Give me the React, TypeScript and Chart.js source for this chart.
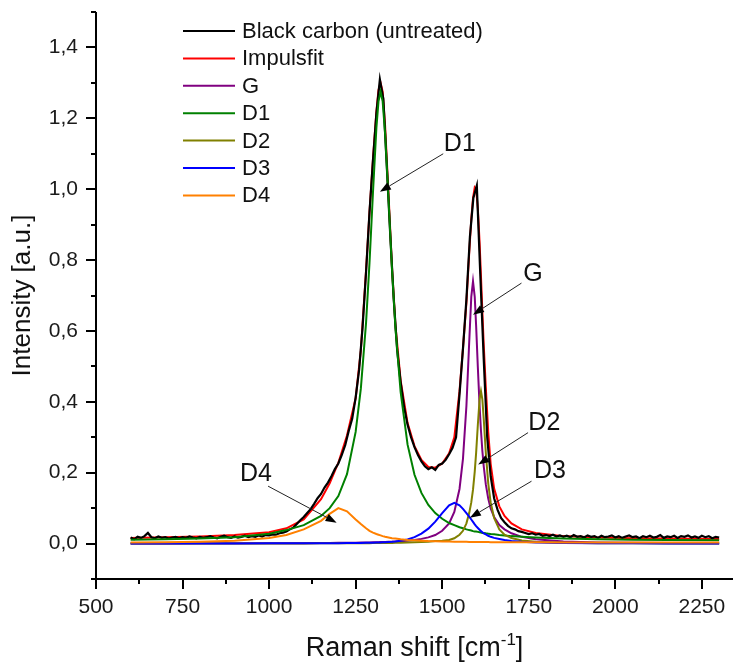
import React, { useEffect, useRef } from "react";
import { Chart, registerables } from "chart.js";

Chart.register(...registerables);

const FONT = '"Liberation Sans", Arial, Helvetica, sans-serif';

// Raman shift sampling of the fitted curves [cm^-1]
const FIT_X = [600, 700, 800, 900, 1000, 1050, 1100, 1150, 1175, 1200, 1225, 1250, 1265, 1280, 1290, 1300, 1310, 1316, 1322, 1328, 1335, 1345, 1355, 1365, 1380, 1400, 1420, 1440, 1460, 1480, 1500, 1520, 1535, 1550, 1560, 1570, 1578, 1584, 1589, 1594, 1598, 1603, 1608, 1612, 1616, 1620, 1626, 1633, 1640, 1650, 1665, 1680, 1700, 1730, 1770, 1850, 1950, 2050, 2150, 2300];

const IMPULSFIT = [0.016, 0.018, 0.020, 0.024, 0.032, 0.043, 0.068, 0.125, 0.170, 0.228, 0.305, 0.410, 0.545, 0.770, 0.935, 1.085, 1.220, 1.280, 1.300, 1.275, 1.180, 0.985, 0.780, 0.615, 0.460, 0.340, 0.275, 0.236, 0.216, 0.214, 0.226, 0.255, 0.300, 0.430, 0.550, 0.680, 0.820, 0.915, 0.975, 1.005, 1.000, 0.945, 0.850, 0.755, 0.655, 0.560, 0.440, 0.315, 0.225, 0.155, 0.105, 0.078, 0.057, 0.040, 0.030, 0.021, 0.017, 0.015, 0.014, 0.013];

const G_BAND = [0.0004, 0.0005, 0.0006, 0.0008, 0.0009, 0.0011, 0.0012, 0.0014, 0.0015, 0.0020, 0.0022, 0.0026, 0.0028, 0.0031, 0.0033, 0.0035, 0.0038, 0.0040, 0.0041, 0.0043, 0.0046, 0.0050, 0.0054, 0.0059, 0.0068, 0.0082, 0.0103, 0.0132, 0.0174, 0.024, 0.036, 0.057, 0.089, 0.154, 0.239, 0.389, 0.568, 0.696, 0.740, 0.696, 0.615, 0.497, 0.389, 0.319, 0.262, 0.218, 0.167, 0.127, 0.099, 0.075, 0.052, 0.040, 0.029, 0.019, 0.012, 0.006, 0.003, 0.002, 0.0015, 0.001];

const D1_BAND = [0.011, 0.012, 0.014, 0.018, 0.028, 0.038, 0.052, 0.078, 0.100, 0.134, 0.196, 0.315, 0.437, 0.622, 0.792, 0.990, 1.174, 1.248, 1.275, 1.248, 1.158, 0.970, 0.774, 0.607, 0.427, 0.279, 0.194, 0.143, 0.109, 0.086, 0.070, 0.058, 0.052, 0.046, 0.043, 0.040, 0.038, 0.037, 0.035, 0.034, 0.034, 0.033, 0.032, 0.031, 0.030, 0.030, 0.029, 0.028, 0.027, 0.026, 0.024, 0.023, 0.021, 0.019, 0.017, 0.014, 0.012, 0.011, 0.010, 0.009];

const D2_BAND = [0.0002, 0.0002, 0.0002, 0.0003, 0.0003, 0.0004, 0.0005, 0.0006, 0.0006, 0.0007, 0.0008, 0.0010, 0.0010, 0.0011, 0.0012, 0.0013, 0.0014, 0.0014, 0.0015, 0.0015, 0.0016, 0.0017, 0.0019, 0.0020, 0.0023, 0.0028, 0.0034, 0.0042, 0.0054, 0.0071, 0.0080, 0.010, 0.015, 0.025, 0.036, 0.057, 0.086, 0.116, 0.152, 0.203, 0.256, 0.336, 0.407, 0.430, 0.407, 0.352, 0.256, 0.170, 0.116, 0.072, 0.040, 0.025, 0.0155, 0.0088, 0.0050, 0.0022, 0.0011, 0.0007, 0.0004, 0.0003];

const D3_BAND = [0.0003, 0.0003, 0.0004, 0.0005, 0.0006, 0.0007, 0.0008, 0.0010, 0.0011, 0.0012, 0.0014, 0.0016, 0.0018, 0.0020, 0.0022, 0.0024, 0.0027, 0.0029, 0.0031, 0.0034, 0.0037, 0.0043, 0.0050, 0.0060, 0.0080, 0.0115, 0.018, 0.028, 0.042, 0.062, 0.086, 0.108, 0.115, 0.108, 0.098, 0.086, 0.076, 0.068, 0.061, 0.054, 0.049, 0.044, 0.039, 0.035, 0.032, 0.029, 0.026, 0.022, 0.019, 0.016, 0.013, 0.010, 0.0075, 0.0050, 0.0032, 0.0018, 0.0010, 0.0007, 0.0005, 0.0003];

const D4_BAND = [0.003, 0.004, 0.005, 0.008, 0.016, 0.024, 0.040, 0.064, 0.084, 0.100, 0.091, 0.068, 0.055, 0.043, 0.036, 0.031, 0.027, 0.025, 0.023, 0.021, 0.019, 0.017, 0.015, 0.014, 0.012, 0.010, 0.009, 0.008, 0.007, 0.0065, 0.006, 0.0055, 0.0052, 0.005, 0.005, 0.0048, 0.0047, 0.0046, 0.0045, 0.0045, 0.0044, 0.0044, 0.0043, 0.0043, 0.0042, 0.0042, 0.0041, 0.0041, 0.004, 0.004, 0.0039, 0.0038, 0.0037, 0.0036, 0.0035, 0.0033, 0.0032, 0.0031, 0.003, 0.003];

// Measured spectrum, one value every 10 cm^-1 from 600 to 2300
const RAW_START = 600;
const RAW_STEP = 10;
const RAW_INTENSITY = [
  0.017, 0.012, 0.019, 0.016, 0.021, 0.030, 0.018, 0.015, 0.020, 0.016,
  0.018, 0.014, 0.017, 0.019, 0.015, 0.018, 0.016, 0.020, 0.017, 0.015,
  0.019, 0.016, 0.018, 0.021, 0.017, 0.015, 0.019, 0.022, 0.018, 0.016,
  0.020, 0.017, 0.019, 0.022, 0.018, 0.021, 0.019, 0.023, 0.020, 0.024,
  0.023, 0.026, 0.025, 0.029, 0.031, 0.034, 0.040, 0.045, 0.055, 0.066,
  0.075, 0.086, 0.097, 0.112, 0.128, 0.140, 0.158, 0.172, 0.190, 0.210,
  0.226, 0.250, 0.278, 0.318, 0.352, 0.412, 0.490, 0.610, 0.765, 0.935,
  1.080, 1.215, 1.310, 1.255, 1.065, 0.870, 0.690, 0.545, 0.455, 0.385,
  0.335, 0.300, 0.272, 0.250, 0.232, 0.218, 0.210, 0.215, 0.208, 0.222,
  0.226, 0.236, 0.252, 0.270, 0.300, 0.420, 0.550, 0.690, 0.865, 0.975,
  1.010, 0.760, 0.520, 0.300, 0.190, 0.128, 0.095, 0.072, 0.060, 0.050,
  0.043, 0.040, 0.035, 0.033, 0.030, 0.027, 0.029, 0.025, 0.027, 0.022,
  0.024, 0.021, 0.025, 0.020, 0.023, 0.019, 0.022, 0.018, 0.024, 0.019,
  0.021, 0.017, 0.023, 0.019, 0.021, 0.016, 0.022, 0.018, 0.020, 0.023,
  0.017, 0.021, 0.016, 0.020, 0.023, 0.018, 0.020, 0.015, 0.021, 0.018,
  0.022, 0.017, 0.019, 0.024, 0.016, 0.020, 0.018, 0.022, 0.016, 0.021,
  0.019, 0.023, 0.017, 0.020, 0.016, 0.022, 0.018, 0.021, 0.015, 0.019,
  0.017,
];

const SERIES_LABELS = ["Black carbon (untreated)", "Impulsfit", "G", "D1", "D2", "D3", "D4"];
const SERIES_COLORS = ["#000000", "#ff0000", "#800080", "#008000", "#808000", "#0000ff", "#ff8000"];

const X_MIN = 500;
const X_MAX = 2340;
const Y_MIN = -0.1;
const Y_MAX = 1.5;

// tick positions: major ones are labelled, the others are minor marks
const X_TICKS = [500, 625, 750, 875, 1000, 1125, 1250, 1375, 1500, 1625, 1750, 1875, 2000, 2125, 2250];
const X_MAJOR = [500, 750, 1000, 1250, 1500, 1750, 2000, 2250];
const Y_TICKS = [-0.1, 0, 0.1, 0.2, 0.3, 0.4, 0.5, 0.6, 0.7, 0.8, 0.9, 1.0, 1.1, 1.2, 1.3, 1.4, 1.5];
const Y_MAJOR = [0, 0.2, 0.4, 0.6, 0.8, 1.0, 1.2, 1.4];

// Callouts: text centre (tx, ty), arrow start (fx, fy), arrow tip (ax, ay) in data units
const CALLOUTS = [
  { label: "D1", tx: 1551, ty: 1.128, fx: 1503, fy: 1.1, ax: 1320, ay: 0.993 },
  { label: "G", tx: 1762, ty: 0.759, fx: 1729, fy: 0.735, ax: 1589, ay: 0.646 },
  { label: "D2", tx: 1795, ty: 0.339, fx: 1748, fy: 0.313, ax: 1604, ay: 0.223 },
  { label: "D3", tx: 1811, ty: 0.204, fx: 1758, fy: 0.176, ax: 1580, ay: 0.073 },
  { label: "D4", tx: 962, ty: 0.195, fx: 997, fy: 0.162, ax: 1195, ay: 0.059 },
];

const pairs = (xs: number[], ys: number[]) => xs.map((x, i) => ({ x, y: ys[i] }));
const isMajor = (list: number[], v: number) => list.some((m) => Math.abs(m - v) < 1e-6);

const decorPlugin = {
  id: "decor",
  afterDraw(chart: any) {
    const { ctx, chartArea, scales } = chart;
    const xs = scales.x;
    const ys = scales.y;
    const { left, right, top, bottom } = chartArea;
    ctx.save();

    // axes lines
    ctx.strokeStyle = "#000";
    ctx.lineWidth = 2;
    ctx.lineCap = "butt";
    ctx.beginPath();
    ctx.moveTo(left, top);
    ctx.lineTo(left, bottom + 1);
    ctx.moveTo(left - 1, bottom);
    ctx.lineTo(right, bottom);
    ctx.stroke();

    // tick marks (major and minor, outward)
    ctx.beginPath();
    X_TICKS.forEach((v) => {
      const p = Math.round(xs.getPixelForValue(v));
      const len = isMajor(X_MAJOR, v) ? 10 : 5;
      ctx.moveTo(p, bottom);
      ctx.lineTo(p, bottom + len);
    });
    Y_TICKS.forEach((v) => {
      const p = Math.round(ys.getPixelForValue(v));
      const len = isMajor(Y_MAJOR, v) ? 10 : 5;
      ctx.moveTo(left, p);
      ctx.lineTo(left - len, p);
    });
    ctx.stroke();

    // axis titles
    ctx.fillStyle = "#111";
    ctx.font = `26px ${FONT}`;
    ctx.textAlign = "center";
    ctx.textBaseline = "middle";
    ctx.save();
    ctx.translate(left - 73, (top + bottom) / 2);
    ctx.rotate(-Math.PI / 2);
    ctx.fillText("Intensity [a.u.]", 0, 0);
    ctx.restore();

    const main = "Raman shift [cm";
    const sup = "-1";
    const close = "]";
    ctx.textBaseline = "alphabetic";
    ctx.textAlign = "left";
    ctx.font = `27px ${FONT}`;
    const w1 = ctx.measureText(main).width;
    const w3 = ctx.measureText(close).width;
    ctx.font = `17px ${FONT}`;
    const w2 = ctx.measureText(sup).width;
    const total = w1 + w2 + w3;
    const cx = (left + right) / 2;
    const base = bottom + 77;
    let xx = cx - total / 2;
    ctx.font = `27px ${FONT}`;
    ctx.fillText(main, xx, base);
    xx += w1;
    ctx.font = `17px ${FONT}`;
    ctx.fillText(sup, xx, base - 11);
    xx += w2;
    ctx.font = `27px ${FONT}`;
    ctx.fillText(close, xx, base);

    // legend
    const ds = chart.data.datasets;
    ctx.font = `22px ${FONT}`;
    ctx.textBaseline = "middle";
    ctx.textAlign = "left";
    ds.forEach((d: any, i: number) => {
      const y = top + 19 + i * 27.4;
      ctx.strokeStyle = d.borderColor;
      ctx.lineWidth = 2;
      ctx.beginPath();
      ctx.moveTo(left + 87, y);
      ctx.lineTo(left + 139, y);
      ctx.stroke();
      ctx.fillStyle = "#111";
      ctx.fillText(d.label, left + 146, y + 1);
    });

    // callouts
    ctx.font = `25px ${FONT}`;
    ctx.textAlign = "center";
    ctx.textBaseline = "middle";
    CALLOUTS.forEach((c) => {
      const tx = xs.getPixelForValue(c.tx);
      const ty = ys.getPixelForValue(c.ty);
      const fx = xs.getPixelForValue(c.fx);
      const fy = ys.getPixelForValue(c.fy);
      const ax = xs.getPixelForValue(c.ax);
      const ay = ys.getPixelForValue(c.ay);
      ctx.fillStyle = "#111";
      ctx.fillText(c.label, tx, ty);
      const ang = Math.atan2(ay - fy, ax - fx);
      const hl = 11;
      const hw = 4;
      const bx = ax - hl * Math.cos(ang);
      const by = ay - hl * Math.sin(ang);
      ctx.strokeStyle = "#222";
      ctx.lineWidth = 1;
      ctx.beginPath();
      ctx.moveTo(fx, fy);
      ctx.lineTo(bx, by);
      ctx.stroke();
      ctx.fillStyle = "#000";
      ctx.beginPath();
      ctx.moveTo(ax, ay);
      ctx.lineTo(bx + hw * Math.sin(ang), by - hw * Math.cos(ang));
      ctx.lineTo(bx - hw * Math.sin(ang), by + hw * Math.cos(ang));
      ctx.closePath();
      ctx.fill();
    });

    ctx.restore();
  },
};

export default function App() {
  const canvasRef = useRef<HTMLCanvasElement | null>(null);

  useEffect(() => {
    document.body.style.margin = "0";
    const canvas = canvasRef.current;
    if (!canvas) return;
    const rawX = RAW_INTENSITY.map((_, i) => RAW_START + i * RAW_STEP);
    const seriesData = [
      pairs(rawX, RAW_INTENSITY),
      pairs(FIT_X, IMPULSFIT),
      pairs(FIT_X, G_BAND),
      pairs(FIT_X, D1_BAND),
      pairs(FIT_X, D2_BAND),
      pairs(FIT_X, D3_BAND),
      pairs(FIT_X, D4_BAND),
    ];
    // drawing order (lower = on top): fit below raw data, components on top
    const drawOrder = [6, 7, 5, 4, 3, 2, 1];
    const chart = new Chart(canvas, {
      type: "line",
      data: {
        datasets: seriesData.map((d, i) => ({
          label: SERIES_LABELS[i],
          data: d,
          borderColor: SERIES_COLORS[i],
          backgroundColor: SERIES_COLORS[i],
          borderWidth: i === 0 ? 2.2 : 2,
          pointRadius: 0,
          tension: 0,
          fill: false,
          order: drawOrder[i],
        })),
      },
      options: {
        responsive: false,
        animation: false,
        devicePixelRatio: 1,
        layout: { padding: { top: 12, right: 6, left: 0, bottom: 0 } },
        plugins: { legend: { display: false }, tooltip: { enabled: false } },
        scales: {
          x: {
            type: "linear",
            min: X_MIN,
            max: X_MAX,
            grid: { display: false, drawTicks: false },
            border: { display: false },
            afterBuildTicks: (s: any) => {
              s.ticks = X_MAJOR.map((v) => ({ value: v }));
            },
            ticks: {
              autoSkip: false,
              maxRotation: 0,
              padding: 16,
              color: "#1a1a1a",
              font: { family: FONT, size: 21 },
              callback: (v: any) => String(v),
            },
            afterFit: (s: any) => {
              s.height = 85;
              s.paddingLeft = 0;
              s.paddingRight = 0;
            },
          },
          y: {
            type: "linear",
            min: Y_MIN,
            max: Y_MAX,
            grid: { display: false, drawTicks: false },
            border: { display: false },
            afterBuildTicks: (s: any) => {
              s.ticks = Y_MAJOR.map((v) => ({ value: v }));
            },
            ticks: {
              autoSkip: false,
              padding: 18,
              color: "#1a1a1a",
              font: { family: FONT, size: 21 },
              callback: (v: any) => Number(v).toFixed(1).replace(".", ","),
            },
            afterFit: (s: any) => {
              s.width = 96;
              s.paddingTop = 0;
              s.paddingBottom = 0;
            },
          },
        },
      },
      plugins: [decorPlugin],
    });
    return () => chart.destroy();
  }, []);

  return (
    <div style={{ width: 739, height: 664, background: "#fff" }}>
      <canvas ref={canvasRef} width={739} height={664} style={{ display: "block" }} />
    </div>
  );
}
